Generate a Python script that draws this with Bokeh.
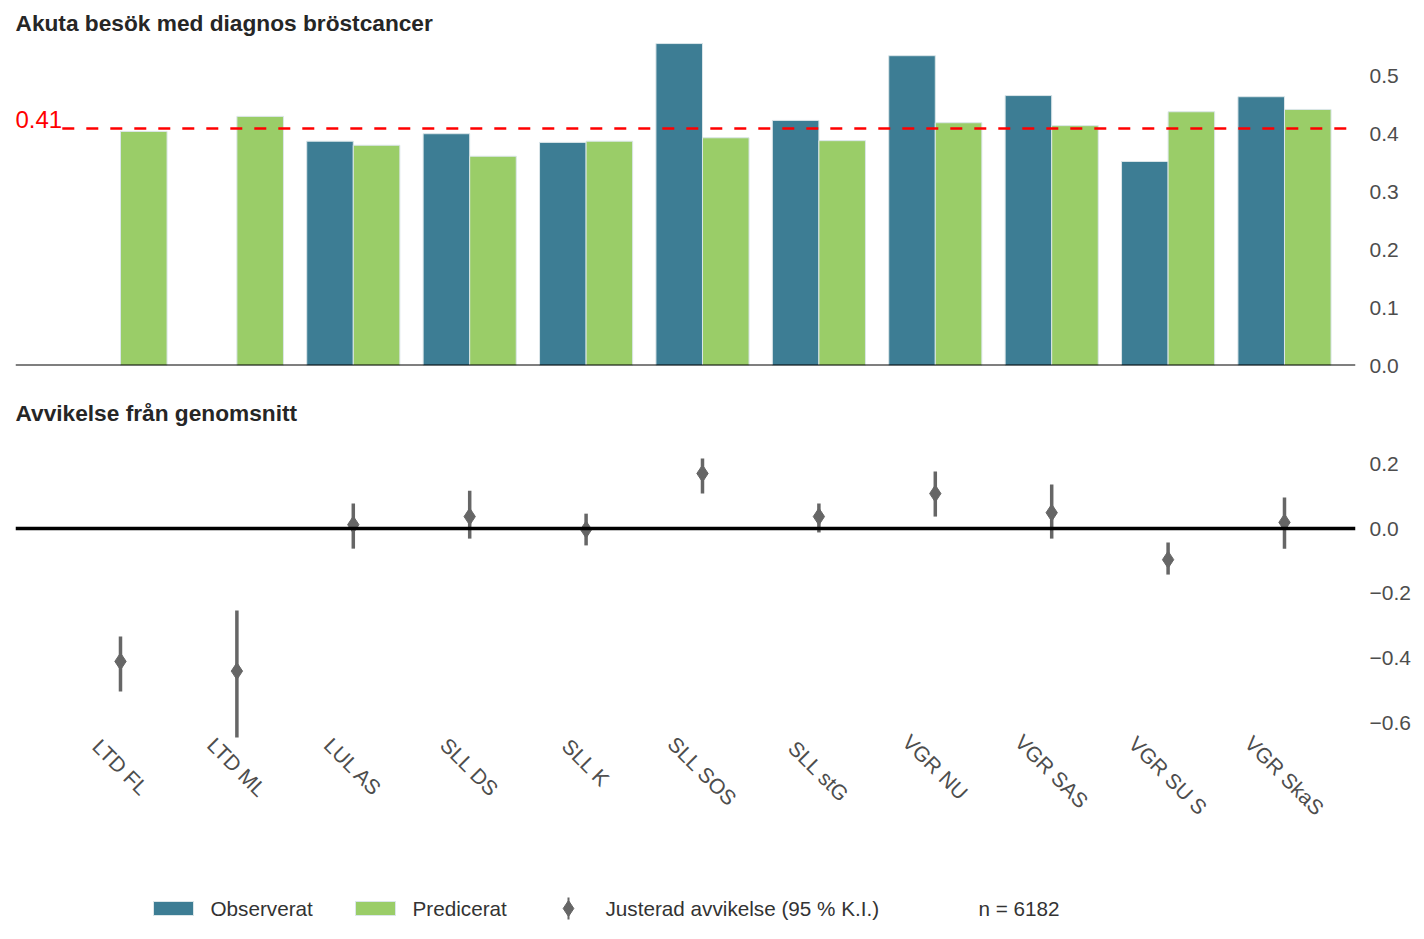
import math
from bokeh.plotting import figure
from bokeh.models import ColumnDataSource, Range1d, FixedTicker, Span, Title, Label
from bokeh.layouts import column
from bokeh.embed import file_html
from bokeh.resources import INLINE
from bokeh.core.properties import value
from bokeh.transform import dodge

# ---------------- data ----------------
categories = ["LTD FL", "LTD ML", "LUL AS", "SLL DS", "SLL K", "SLL SOS",
              "SLL stG", "VGR NU", "VGR SAS", "VGR SU S", "VGR SkaS"]
observed = [None, None, 0.388, 0.401, 0.386, 0.557, 0.424, 0.536, 0.467, 0.353, 0.465]
predicted = [0.405, 0.431, 0.381, 0.362, 0.388, 0.394, 0.389, 0.420, 0.415, 0.439, 0.443]
deviation = [-0.41, -0.44, 0.012, 0.037, -0.003, 0.170, 0.037, 0.108, 0.049, -0.096, 0.019]
ci_low = [-0.503, -0.645, -0.062, -0.031, -0.052, 0.108, -0.012, 0.037, -0.031, -0.142, -0.062]
ci_high = [-0.333, -0.253, 0.077, 0.117, 0.046, 0.216, 0.077, 0.176, 0.136, -0.043, 0.096]
average = 0.41
n_total = 6182
top_ticks = [0.0, 0.1, 0.2, 0.3, 0.4, 0.5]
bottom_ticks = [-0.6, -0.4, -0.2, 0.0, 0.2]
title_top = "Akuta besök med diagnos bröstcancer"
title_bottom = "Avvikelse från genomsnitt"
legend_labels = ["Observerat", "Predicerat", "Justerad avvikelse (95 % K.I.)"]

# ---------------- styles ----------------
FONT = "Liberation Sans"
OBS_COLOR = "#3d7d94"
PRED_COLOR = "#9acd68"
EDGE = "#dbe6e9"
POINT_COLOR = "#666666"
TICK_COLOR = "#4d4d4d"
TEXT_COLOR = "#333333"
W = 1416
BL, BR = 15, 61          # left / right borders shared by all figures

idx = list(range(len(categories)))
x_range = Range1d(-0.902, 10.61)


def style(p):
    p.outline_line_color = None
    p.grid.visible = False
    p.background_fill_color = "white"
    p.border_fill_color = "white"


def right_axis(p, ticks):
    ax = p.yaxis[0]
    ax.ticker = FixedTicker(ticks=ticks)
    ax.major_label_overrides = {t: f"{t:.1f}".replace("-", "\u2212") for t in ticks}
    ax.axis_line_color = None
    ax.major_tick_line_color = None
    ax.minor_tick_line_color = None
    ax.major_tick_out = 0
    ax.major_label_standoff = 14
    ax.major_label_text_font = FONT
    ax.major_label_text_font_size = "21px"
    ax.major_label_text_color = TICK_COLOR


def add_title(p, text):
    p.add_layout(Title(text=text, align="left", text_font=FONT, text_font_size="22.7px",
                       text_font_style="bold", text_color="#262626", standoff=1,
                       offset=0), "above")


# ---------------- top: bars ----------------
top = figure(width=W, height=377, x_range=x_range, y_range=Range1d(0, 0.5692),
             output_backend="svg", toolbar_location=None, y_axis_location="right",
             min_border_left=BL, min_border_right=BR, min_border_top=36, min_border_bottom=12)
style(top)
add_title(top, title_top)
top.xaxis.visible = False
right_axis(top, top_ticks)

obs_src = ColumnDataSource(dict(x=[i for i, v in zip(idx, observed) if v is not None],
                                top=[v for v in observed if v is not None]))
pred_src = ColumnDataSource(dict(x=idx, top=predicted))
top.vbar(x=dodge("x", -0.2), top="top", width=0.4, source=obs_src,
         fill_color=OBS_COLOR, line_color=EDGE, line_width=1)
top.vbar(x=dodge("x", 0.2), top="top", width=0.4, source=pred_src,
         fill_color=PRED_COLOR, line_color=EDGE, line_width=1)

top.add_layout(Span(location=0, dimension="width", line_color="black", line_width=2))
top.segment(x0=[idx[0] - 0.5], x1=[x_range.end], y0=[average], y1=[average],
            line_color="red", line_width=2.5, line_dash="12 12")
top.add_layout(Label(x=x_range.start, y=average, text=f"{average:.2f}", text_color="red",
                     text_font=FONT, text_font_size="24px", text_align="left",
                     text_baseline="bottom", y_offset=1))

# ---------------- bottom: deviation ----------------
bot = figure(width=W, height=498, x_range=x_range, y_range=Range1d(-1.0245, 0.315),
             output_backend="svg", toolbar_location=None, y_axis_location="right",
             min_border_left=BL, min_border_right=BR, min_border_top=49, min_border_bottom=15)
style(bot)
add_title(bot, title_bottom)
bot.xaxis.visible = False
right_axis(bot, bottom_ticks)

bot.add_layout(Span(location=0, dimension="width", line_color="black", line_width=3.5))
dev_src = ColumnDataSource(dict(x=idx, dev=deviation, lo=ci_low, hi=ci_high))
bot.segment(x0="x", x1="x", y0="lo", y1="hi", source=dev_src,
            line_color=POINT_COLOR, line_width=3.5)
bot.scatter(x="x", y="dev", source=dev_src, marker="diamond", size=17,
            fill_color=POINT_COLOR, line_color=POINT_COLOR)

label_y = -0.642
lab_src = ColumnDataSource(dict(
    x=idx, text=categories,
    yoff=[(12 * len(c) + 14) / (2 * math.sqrt(2)) for c in categories]))
bot.text(x="x", y=label_y, text="text", source=lab_src, angle=-math.pi / 4,
         text_align="center", text_baseline="middle", y_offset="yoff",
         text_font=value(FONT), text_font_size="21px", text_color=TICK_COLOR)

# ---------------- legend strip (x in page pixels) ----------------
leg = figure(width=W, height=56, x_range=Range1d(BL, W - BR), y_range=Range1d(0, 56),
             output_backend="svg", toolbar_location=None,
             min_border_left=BL, min_border_right=BR,
             min_border_top=0, min_border_bottom=0)
style(leg)
leg.axis.visible = False
ly = 23
leg.rect(x=[173], y=[ly], width=40, height=14, fill_color=OBS_COLOR, line_color=EDGE)
leg.rect(x=[375], y=[ly], width=40, height=14, fill_color=PRED_COLOR, line_color=EDGE)
leg.segment(x0=[568], x1=[568], y0=[ly - 11], y1=[ly + 11], line_color=POINT_COLOR, line_width=2)
leg.scatter(x=[568], y=[ly], marker="diamond", size=16, fill_color=POINT_COLOR,
            line_color=POINT_COLOR)
leg.text(x=[210, 412, 605, 978],
         y=[ly] * 4,
         text=legend_labels + [f"n = {n_total}"],
         text_align="left", text_baseline="middle",
         text_font=value(FONT), text_font_size="20.7px", text_color=TEXT_COLOR)

layout = column(top, bot, leg, spacing=0)
open("out.html", "w").write(file_html(layout, INLINE))
